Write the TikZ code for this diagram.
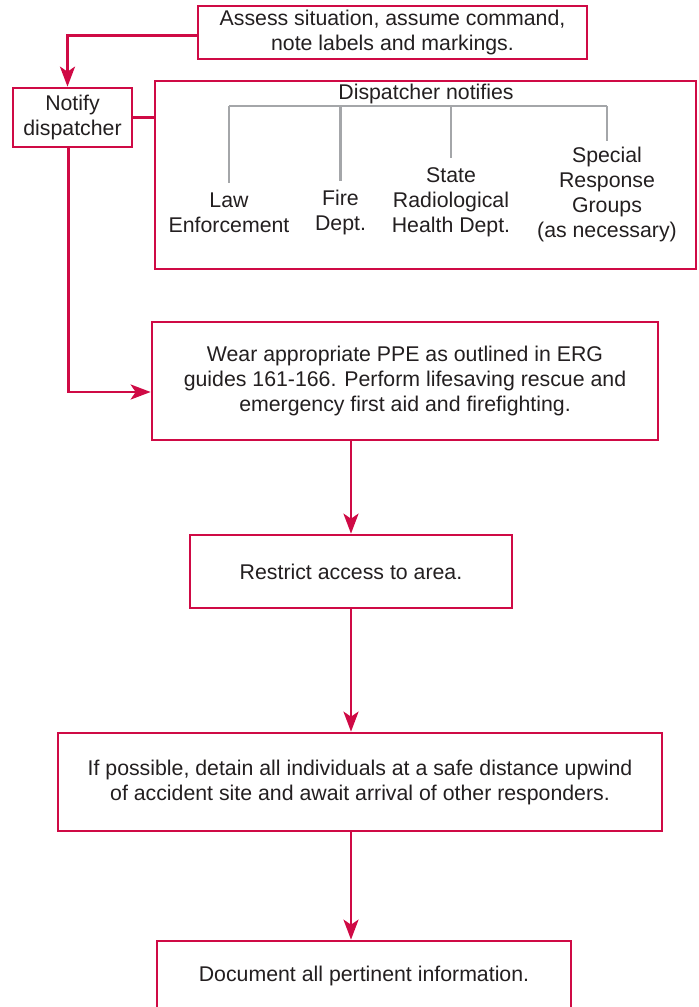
\documentclass[tikz,border=0pt]{standalone}
\usepackage{fontspec}
\setmainfont{Liberation Sans}
\usetikzlibrary{arrows.meta}
\definecolor{ChartRed}{HTML}{CF0A45}
\definecolor{TreeGray}{HTML}{A4A6A9}
\definecolor{InkGray}{HTML}{231F20}
\tikzset{
  stepbox/.style={
    draw=ChartRed,line width=2.7pt,fill=white,
    inner sep=0pt,align=center,
    font=\fontsize{21.3}{25}\selectfont,text=InkGray
  },
  leaf/.style={
    inner sep=2pt,align=center,
    font=\fontsize{21.3}{25}\selectfont,text=InkGray
  },
  flow/.style={draw=ChartRed,line width=2.7pt},
  flowarrow/.style={flow,-{Stealth[length=20pt,width=15pt,inset=5pt]}},
  tree/.style={draw=TreeGray,line width=2.7pt},
}

\begin{document}
\begin{tikzpicture}[x=1pt,y=-1pt]
  \clip (0,0) rectangle (699,1007);
  % boxes
  \node[stepbox,minimum width=389,minimum height=53] (assess) at (392.5,32.5) {Assess situation, assume command,\\note labels and markings.};
  \node[stepbox,minimum width=119,minimum height=59] (notify) at (72.5,117.5) {Notify\\dispatcher};
  \node[stepbox,minimum width=541,minimum height=188] (dispbox) at (425.5,175) {};
  \node[stepbox,minimum width=506,minimum height=118] (ppe) at (405,381) {Wear appropriate PPE as outlined in ERG\\guides 161-166. Perform lifesaving rescue and\\emergency first aid and firefighting.};
  \node[stepbox,minimum width=322,minimum height=73] (restrict) at (351,571.5) {Restrict access to area.};
  \node[stepbox,minimum width=604,minimum height=98] (detain) at (360,782) {If possible, detain all individuals at a safe distance upwind\\of accident site and await arrival of other responders.};
  \node[stepbox,minimum width=414,minimum height=70] (doc) at (364,976) {Document all pertinent information.};
  % dispatcher tree
  \node[leaf] (dnote) at (426,94) {Dispatcher notifies};
  \node[leaf] (law) at (229,212.5) {Law\\Enforcement};
  \node[leaf] (fire) at (340.5,212.5) {Fire\\Dept.};
  \node[leaf] (state) at (451,202) {State\\Radiological\\Health Dept.};
  \node[leaf] (special) at (607,194.5) {Special\\Response\\Groups\\(as necessary)};
  \coordinate (bar) at (0,106);
  \draw[tree] (bar -| law.north) -- (bar -| special.north);
  \draw[tree] (bar -| law.north) -- ([yshift=7]law.north);
  \draw[tree] (bar -| fire.north) -- ([yshift=7]fire.north);
  \draw[tree] (bar -| state.north) -- ([yshift=7]state.north);
  \draw[tree] (bar -| special.north) -- ([yshift=4]special.north);
  % connectors
  \draw[flowarrow] ([yshift=-3]assess.west) -| ([xshift=-5]notify.north);
  \draw[flow] (notify.east) -- (notify.east -| dispbox.west);
  \draw[flowarrow] ([xshift=-4]notify.south) |- ([yshift=-11]ppe.west);
  \draw[flowarrow] (restrict.north |- ppe.south) -- (restrict.north);
  \draw[flowarrow] (restrict.south) -- (restrict.south |- detain.north);
  \draw[flowarrow] (restrict.south |- detain.south) -- (restrict.south |- doc.north);
\end{tikzpicture}
\end{document}
